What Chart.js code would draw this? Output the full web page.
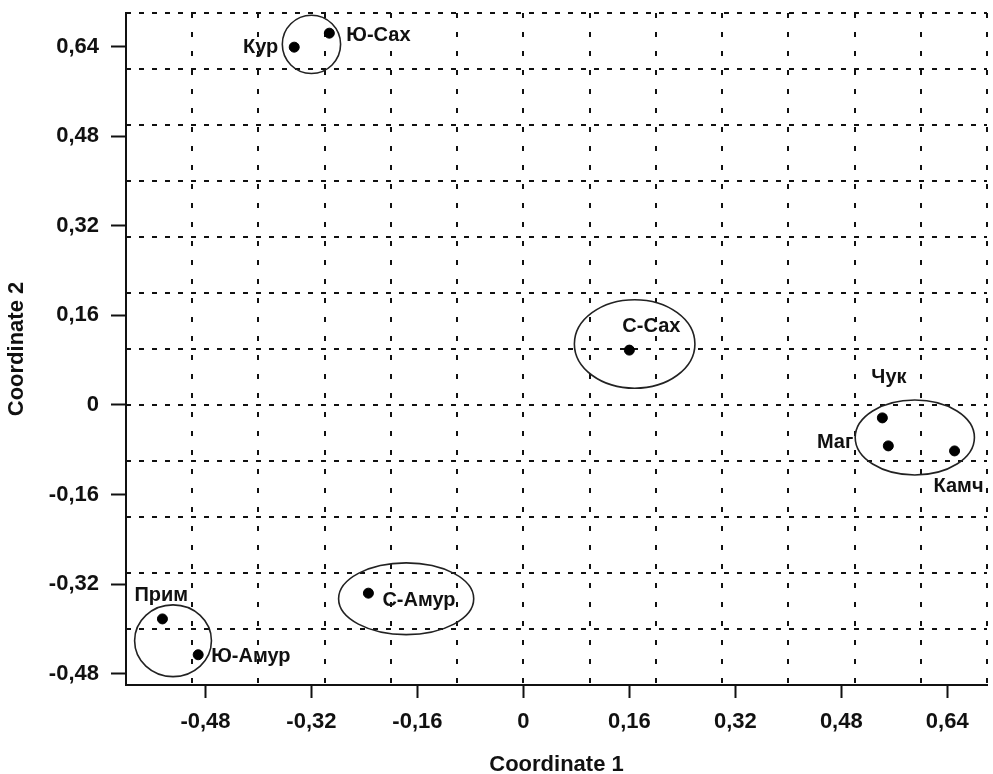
<!DOCTYPE html>
<html>
<head>
<meta charset="utf-8">
<script src="https://cdn.jsdelivr.net/npm/chart.js@4"></script>
<style>
  html, body { margin: 0; padding: 0; background: #fff; }
  #wrap { width: 993px; height: 774px; }
</style>
</head>
<body>
<div id="wrap"><canvas id="mds" width="993" height="774"></canvas></div>
<script>
// populations and their MDS coordinates
const names  = ["Кур", "Ю-Сах", "С-Сах", "Чук", "Маг", "Камч", "Прим", "Ю-Амур", "С-Амур"];
const coord1 = [-0.346, -0.293, 0.160, 0.542, 0.551, 0.651, -0.545, -0.491, -0.234];
const coord2 = [0.639, 0.664, 0.098, -0.023, -0.073, -0.082, -0.382, -0.446, -0.336];

// cluster ellipses (centre and radii in axis units)
const ellCx = [-0.320, 0.168, 0.591, -0.529, -0.177];
const ellCy = [0.644, 0.109, -0.058, -0.421, -0.346];
const ellRx = [0.044, 0.091, 0.090, 0.058, 0.102];
const ellRy = [0.052, 0.079, 0.067, 0.064, 0.064];

// tick labels and grid lines
const xTicks = [-0.48, -0.32, -0.16, 0, 0.16, 0.32, 0.48, 0.64];
const yTicks = [-0.48, -0.32, -0.16, 0, 0.16, 0.32, 0.48, 0.64];
const xGrid = [-0.6, -0.5, -0.4, -0.3, -0.2, -0.1, 0, 0.1, 0.2, 0.3, 0.4, 0.5, 0.6, 0.7];
const yGrid = [-0.5, -0.4, -0.3, -0.2, -0.1, 0, 0.1, 0.2, 0.3, 0.4, 0.5, 0.6, 0.7];

// label placement relative to the point (px): [dx, dy, align]
const labelPos = [
  [-16, 0, "right"], [17, 2, "left"], [-7, -24, "left"],
  [-11, -40, "left"], [-35, -3, "right"], [-21, 36, "left"],
  [-28, -23, "left"], [13, 2, "left"], [14, 7, "left"]
];

Chart.defaults.font.family = "'Liberation Sans', Arial, sans-serif";
Chart.defaults.font.weight = "bold";
Chart.defaults.color = "#111";

const fmt = v => v === 0 ? "0" : v.toFixed(2).replace(".", ",");

function noPad(s) {
  s.paddingTop = 0; s.paddingBottom = 0; s.paddingLeft = 0; s.paddingRight = 0;
}

const ellipses = {
  id: "ellipses",
  afterDatasetsDraw(chart) {
    const ctx = chart.ctx, sx = chart.scales.x, sy = chart.scales.y;
    ctx.save();
    ctx.strokeStyle = "#222";
    ctx.lineWidth = 1.6;
    for (let i = 0; i < ellCx.length; i++) {
      const cx = sx.getPixelForValue(ellCx[i]);
      const cy = sy.getPixelForValue(ellCy[i]);
      const rx = Math.abs(sx.getPixelForValue(ellCx[i] + ellRx[i]) - cx);
      const ry = Math.abs(sy.getPixelForValue(ellCy[i] + ellRy[i]) - cy);
      ctx.beginPath();
      ctx.ellipse(cx, cy, rx, ry, 0, 0, Math.PI * 2);
      ctx.stroke();
    }
    ctx.restore();
  }
};

const pointLabels = {
  id: "pointLabels",
  afterDatasetsDraw(chart) {
    const ctx = chart.ctx;
    const pts = chart.getDatasetMeta(0).data;
    ctx.save();
    ctx.font = "bold 20px 'Liberation Sans', Arial, sans-serif";
    ctx.fillStyle = "#111";
    ctx.textBaseline = "middle";
    pts.forEach((p, i) => {
      ctx.textAlign = labelPos[i][2];
      ctx.fillText(names[i], p.x + labelPos[i][0], p.y + labelPos[i][1]);
    });
    ctx.restore();
  }
};

new Chart(document.getElementById("mds"), {
  type: "scatter",
  data: {
    datasets: [{
      label: "MDS",
      data: coord1.map((x, i) => ({ x: x, y: coord2[i] })),
      backgroundColor: "#000",
      borderColor: "#000",
      pointRadius: 5,
      xAxisID: "x",
      yAxisID: "y"
    }]
  },
  options: {
    responsive: false,
    animation: false,
    layout: { padding: { top: 13, right: 5, left: 0, bottom: 0 } },
    plugins: { legend: { display: false }, tooltip: { enabled: false } },
    scales: {
      x: {
        type: "linear", position: "bottom", min: -0.6, max: 0.7,
        afterBuildTicks: s => { s.ticks = xTicks.map(v => ({ value: v })); },
        afterFit: s => { s.height = 89; noPad(s); },
        grid: { drawOnChartArea: false, drawTicks: true, tickLength: 13, tickColor: "#111", tickWidth: 2 },
        border: { display: true, color: "#111", width: 2 },
        ticks: { padding: 11, font: { size: 22 }, callback: v => fmt(v) },
        title: { display: true, text: "Coordinate 1", font: { size: 22 }, padding: { top: 0, bottom: -4 } }
      },
      y: {
        type: "linear", position: "left", min: -0.5, max: 0.7,
        afterBuildTicks: s => { s.ticks = yTicks.map(v => ({ value: v })); },
        afterFit: s => { s.width = 126; noPad(s); },
        grid: { drawOnChartArea: false, drawTicks: true, tickLength: 15, tickColor: "#111", tickWidth: 2 },
        border: { display: true, color: "#111", width: 2 },
        ticks: { padding: 12, font: { size: 22 }, callback: v => fmt(v) },
        title: { display: true, text: "Coordinate 2", font: { size: 22 }, padding: { top: 4, bottom: 0 } }
      },
      xg: {
        type: "linear", position: "bottom", min: -0.6, max: 0.7,
        afterBuildTicks: s => { s.ticks = xGrid.map(v => ({ value: v })); },
        afterFit: s => { s.height = 0; noPad(s); },
        grid: { color: "#111", lineWidth: 2, drawTicks: false },
        border: { display: false, dash: [5, 14] },
        ticks: { display: false }
      },
      yg: {
        type: "linear", position: "left", min: -0.5, max: 0.7,
        afterBuildTicks: s => { s.ticks = yGrid.map(v => ({ value: v })); },
        afterFit: s => { s.width = 0; noPad(s); },
        grid: { color: "#111", lineWidth: 2, drawTicks: false },
        border: { display: false, dash: [5, 8] },
        ticks: { display: false }
      }
    }
  },
  plugins: [ellipses, pointLabels]
});
</script>
</body>
</html>
